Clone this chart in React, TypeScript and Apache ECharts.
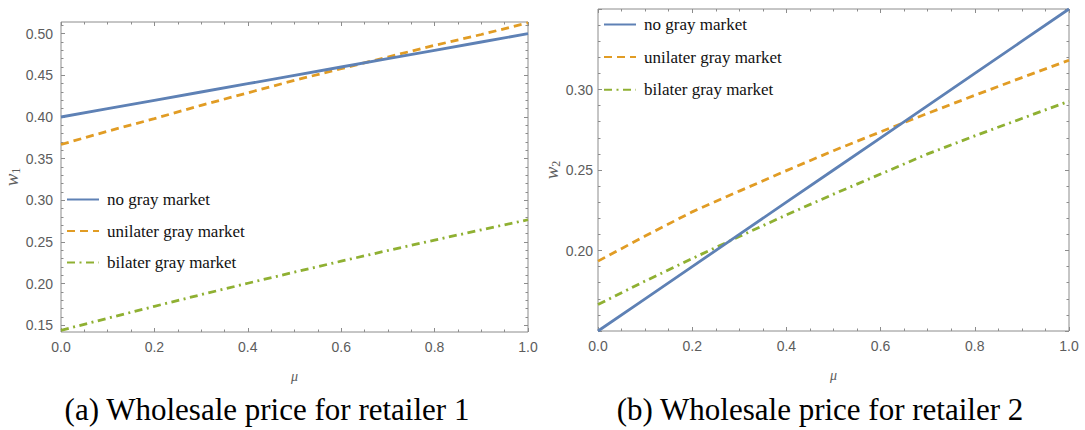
import React, { useEffect, useRef } from "react";
import * as echarts from "echarts";

// ---- data ----
const MU = [0, 0.1, 0.2, 0.3, 0.4, 0.5, 0.6, 0.7, 0.8, 0.9, 1.0];
const SERIES_NAMES = ["no gray market", "unilater gray market", "bilater gray market"];

// panel (a): wholesale price for retailer 1
const W1_NO = [0.4, 0.41, 0.42, 0.43, 0.44, 0.45, 0.46, 0.47, 0.48, 0.49, 0.5];
const W1_UNI = [0.367, 0.383, 0.398, 0.414, 0.429, 0.444, 0.458, 0.472, 0.486, 0.499, 0.513];
const W1_BI = [0.144, 0.1585, 0.1728, 0.1868, 0.2005, 0.2139, 0.227, 0.2398, 0.2523, 0.2646, 0.2767];

// panel (b): wholesale price for retailer 2
const W2_NO = [0.15, 0.17, 0.19, 0.21, 0.23, 0.25, 0.27, 0.29, 0.31, 0.33, 0.35];
const W2_UNI = [0.1934, 0.209, 0.224, 0.2369, 0.2496, 0.262, 0.2737, 0.2852, 0.2964, 0.3074, 0.3182];
const W2_BI = [0.1665, 0.181, 0.195, 0.2087, 0.2221, 0.235, 0.2475, 0.26, 0.2712, 0.282, 0.2927];

// ticks
const X_LABELS = [0, 0.2, 0.4, 0.6, 0.8, 1.0];
const Y1_LABELS = [0.15, 0.2, 0.25, 0.3, 0.35, 0.4, 0.45, 0.5];
const Y1_MAJOR = [0.15, 0.2, 0.25, 0.3, 0.35, 0.4, 0.45, 0.5];
const Y1_MINOR = [0.16, 0.17, 0.18, 0.19, 0.21, 0.22, 0.23, 0.24, 0.26, 0.27, 0.28, 0.29, 0.31, 0.32, 0.33, 0.34, 0.36, 0.37, 0.38, 0.39, 0.41, 0.42, 0.43, 0.44, 0.46, 0.47, 0.48, 0.49, 0.51];
const Y2_LABELS = [0.2, 0.25, 0.3];
const Y2_MAJOR = [0.15, 0.2, 0.25, 0.3, 0.35];
const Y2_MINOR = [0.16, 0.17, 0.18, 0.19, 0.21, 0.22, 0.23, 0.24, 0.26, 0.27, 0.28, 0.29, 0.31, 0.32, 0.33, 0.34];

const CAPTIONS = ["(a) Wholesale price for retailer 1", "(b) Wholesale price for retailer 2"];

// ---- styles ----
const FRAME = "#8c8c8c";
const LABEL = "#5c5c5c";
const COLORS = ["#5E81B5", "#E19C24", "#8FB032"];
const DASHES: any[] = ["solid", [8, 5], [8, 4.5, 2, 4.5]];
const SANS = "'Liberation Sans', Arial, sans-serif";
const SERIF = "'Liberation Serif', 'Times New Roman', serif";

function buildAxes(g: number, yMin: number, yMax: number, yLabels: number[], yMajor: number[], yMinor: number[], sub: string, labelMargin: number) {
  const xBase = {
    gridIndex: g,
    type: "value",
    min: 0,
    max: 1,
    interval: 0.2,
    axisLine: { show: false },
    splitLine: { show: false },
    minorSplitLine: { show: false },
    axisTick: { show: true, inside: true, length: 4, lineStyle: { color: FRAME, width: 1 } },
    minorTick: { show: true, splitNumber: 4, length: 2.5, lineStyle: { color: FRAME, width: 1 } },
  };
  const xAxes = [
    {
      ...xBase,
      position: "bottom",
      axisLabel: {
        customValues: X_LABELS,
        formatter: (v: number) => v.toFixed(1),
        color: LABEL,
        fontFamily: SANS,
        fontSize: 14,
        margin: 8,
      },
      name: "μ",
      nameLocation: "middle",
      nameGap: 37,
      nameTextStyle: { fontFamily: SERIF, fontStyle: "italic", fontSize: 14, color: LABEL },
    },
    { ...xBase, position: "top", axisLabel: { show: false } },
  ];
  const yBase = {
    gridIndex: g,
    type: "value",
    min: yMin,
    max: yMax,
    axisLine: { show: false },
    splitLine: { show: false },
  };
  const yAxes = [
    {
      ...yBase,
      position: "left",
      axisTick: { show: true, inside: true, length: 4, customValues: yMajor, lineStyle: { color: FRAME } },
      axisLabel: {
        customValues: yLabels,
        formatter: (v: number) => v.toFixed(2),
        color: LABEL,
        fontFamily: SANS,
        fontSize: 14,
        margin: labelMargin,
      },
      name: `{w|w}{s|${sub}}`,
      nameLocation: "middle",
      nameRotate: 90,
      nameGap: 36,
      nameTextStyle: {
        color: LABEL,
        rich: {
          w: { fontFamily: SERIF, fontStyle: "italic", fontSize: 19, color: LABEL, lineHeight: 20, verticalAlign: "middle" },
          s: { fontFamily: SERIF, fontSize: 12, color: LABEL, lineHeight: 20, verticalAlign: "bottom", padding: [7, 0, 0, 0] },
        },
      },
    },
    {
      ...yBase,
      position: "left",
      axisTick: { show: true, inside: true, length: 2.5, customValues: yMinor, lineStyle: { color: FRAME } },
      axisLabel: { show: false },
    },
    {
      ...yBase,
      position: "right",
      axisTick: { show: true, inside: true, length: 4, customValues: yMajor, lineStyle: { color: FRAME } },
      axisLabel: { show: false },
    },
    {
      ...yBase,
      position: "right",
      axisTick: { show: true, inside: true, length: 2.5, customValues: yMinor, lineStyle: { color: FRAME } },
      axisLabel: { show: false },
    },
  ];
  return { xAxes, yAxes };
}

function buildSeries(xIdx: number, yIdx: number, values: number[][]) {
  return values.map((vals, i) => ({
    name: SERIES_NAMES[i],
    type: "line",
    xAxisIndex: xIdx,
    yAxisIndex: yIdx,
    data: MU.map((m, k) => [m, vals[k]]),
    symbol: "none",
    showSymbol: false,
    clip: true,
    lineStyle: { color: COLORS[i], width: 2.8, type: DASHES[i] },
    itemStyle: { color: COLORS[i] },
    z: 3 - i,
  }));
}

export default function App() {
  const ref = useRef<HTMLDivElement>(null);
  useEffect(() => {
    document.body.style.margin = "0";
    if (!ref.current) return;
    const chart = echarts.init(ref.current, undefined, { renderer: "svg" });
    const a = buildAxes(0, 0.142, 0.514, Y1_LABELS, Y1_MAJOR, Y1_MINOR, "1", 8);
    const b = buildAxes(1, 0.15, 0.35, Y2_LABELS, Y2_MAJOR, Y2_MINOR, "2", 5);
    const legendBase = {
      orient: "vertical",
      itemWidth: 32,
      itemHeight: 14,
      selectedMode: false,
      data: SERIES_NAMES,
      itemStyle: { opacity: 0 },
      textStyle: { fontFamily: SERIF, fontSize: 17, color: "#111", lineHeight: 17, padding: [0, 0, 0, 3] },
    };
    chart.setOption({
      animation: false,
      backgroundColor: "#ffffff",
      grid: [
        { left: 61, top: 22, width: 467, height: 310, show: true, borderColor: FRAME, borderWidth: 1, backgroundColor: "transparent" },
        { left: 598, top: 9, width: 471, height: 322, show: true, borderColor: FRAME, borderWidth: 1, backgroundColor: "transparent" },
      ],
      xAxis: [...a.xAxes, ...b.xAxes],
      yAxis: [...a.yAxes, ...b.yAxes],
      legend: [
        { ...legendBase, left: 61, top: 186, itemGap: 14.5 },
        { ...legendBase, left: 598, top: 11, itemGap: 15.6 },
      ],
      series: [
        ...buildSeries(0, 0, [W1_NO, W1_UNI, W1_BI]),
        ...buildSeries(2, 4, [W2_NO, W2_UNI, W2_BI]),
      ],
      graphic: [
        { type: "text", x: 267, y: 409, style: { text: CAPTIONS[0], font: `31px ${SERIF}`, fill: "#000", align: "center", verticalAlign: "middle" } },
        { type: "text", x: 820, y: 409, style: { text: CAPTIONS[1], font: `31px ${SERIF}`, fill: "#000", align: "center", verticalAlign: "middle" } },
      ],
    });
    return () => chart.dispose();
  }, []);
  return <div ref={ref} style={{ width: 1085, height: 430 }} />;
}
